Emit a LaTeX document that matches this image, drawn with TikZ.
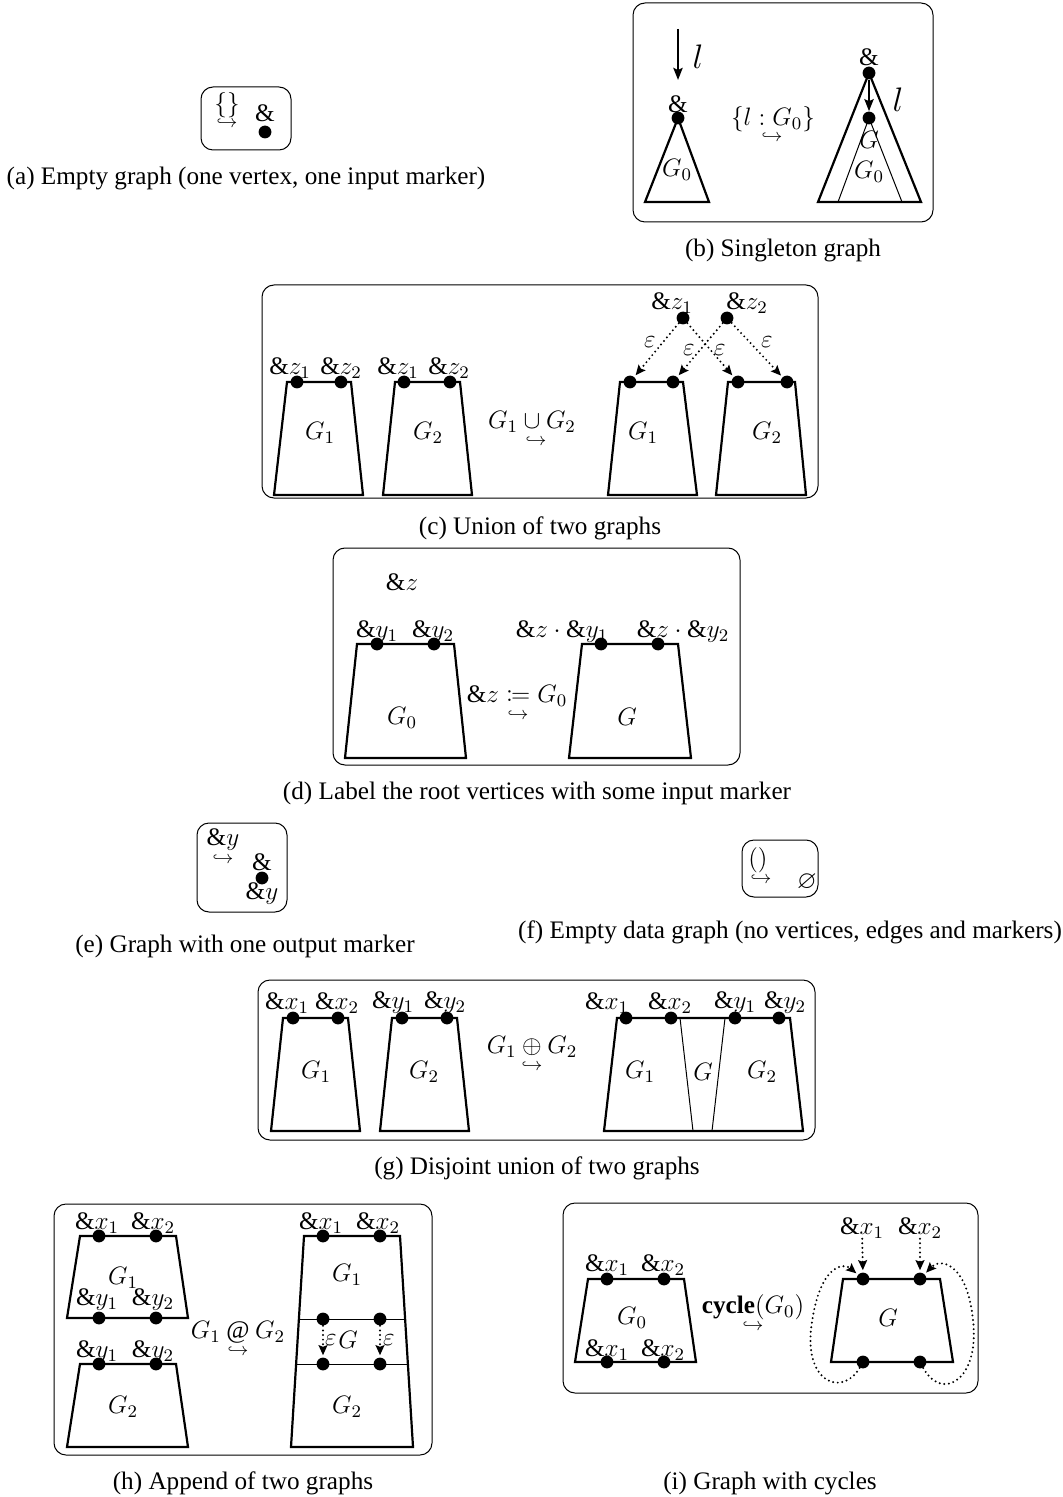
\RequirePackage{fix-cm}
\documentclass[tikz,border=0pt]{standalone}
\usepackage{amsmath,amssymb,mathtools}
\usepackage{fontspec}
\setmainfont{Liberation Serif}
\usetikzlibrary{arrows.meta}

\begin{document}
\begin{tikzpicture}[x=0.5pt,y=-0.5pt,
  every node/.style={font=\fontsize{12.6}{15}\selectfont, inner sep=0pt},
  panel/.style={draw, line width=0.5pt, rounded corners=6pt},
  gline/.style={line width=1.1pt, line join=miter},
  thinline/.style={line width=0.5pt},
  vtx/.style={circle, fill, inner sep=0pt, minimum size=6.4pt},
  hk/.style={font=\fontsize{9}{9}\selectfont},
  bigl/.style={font=\fontsize{17}{20}\selectfont},
  capt/.style={},
  solidarrow/.style={line width=1.1pt, -{Stealth[length=6pt,width=4.6pt,inset=1pt]}},
  eps/.style={dash pattern=on 0pt off 2.3pt, line cap=round, line width=1.1pt,
              -{Stealth[length=5pt,width=4.4pt,inset=0.8pt]}, shorten >=1pt}
]
\useasboundingbox (0,0) rectangle (1063,1497);

% ---------------- (a) empty graph ----------------
\draw[panel] (201,87) rectangle (291,150);
\node (aset) at (227,105) {$\{\}$};
\node[hk] (ahk) at (227,123) {$\hookrightarrow$};
\node (aamp) at (265,113) {$\&$};
\node[vtx] (av) at (265,132) {};
\node[capt] (acap) at (246,178) {(a) Empty graph (one vertex, one input marker)};

% ---------------- (b) singleton graph ----------------
\draw[panel] (633,3) rectangle (933,222);
\coordinate (bas) at (678,29);
\coordinate (bae) at (678,80);
\draw[solidarrow] (bas) -- (bae);
\node[bigl] (bl1) at (698,57) {$l$};
\node (bamp1) at (678,104) {$\&$};
\node[vtx] (bv1) at (678,118) {};
\draw[gline] (bv1.center) -- (645,202) -- (709,202) -- cycle;
\node (bg0a) at (677,170) {$G_0$};
\node (bop) at (773,119) {$\{l:G_0\}$};
\node[hk] (bhk) at (772,137) {$\hookrightarrow$};
\node (bamp2) at (869,57) {$\&$};
\node[vtx] (bv2) at (869,73) {};
\node[vtx] (bv3) at (869,118) {};
\draw[gline] (bv2.center) -- (818,202) -- (921,202) -- cycle;
\draw[thinline] (838,202) -- (bv3.center) -- (902,202);
\draw[solidarrow] (bv2) -- (bv3);
\node[bigl] (bl2) at (898,100) {$l$};
\node (bg) at (869,140) {$G$};
\node (bg0b) at (869,172) {$G_0$};
\node[capt] (bcap) at (783,250) {(b) Singleton graph};

% ---------------- (c) union ----------------
\draw[panel] (262,285) rectangle (818,498);
\draw[gline] (287,382) -- (351,382) -- (363,495) -- (274,495) -- cycle;
\node[vtx] (c1a) at (297,382) {};
\node[vtx] (c1b) at (341,382) {};
\node (c1la) at (290,368) {$\&z_1$};
\node (c1lb) at (341,368) {$\&z_2$};
\node (c1g) at (320,433) {$G_1$};
\draw[gline] (395,382) -- (460,382) -- (472,495) -- (383,495) -- cycle;
\node[vtx] (c2a) at (404,382) {};
\node[vtx] (c2b) at (450,382) {};
\node (c2la) at (398,368) {$\&z_1$};
\node (c2lb) at (449,368) {$\&z_2$};
\node (c2g) at (428,433) {$G_2$};
\node (cop) at (532,422) {$G_1\cup G_2$};
\node[hk] (chk) at (536,441) {$\hookrightarrow$};
\draw[gline] (620,382) -- (683,382) -- (697,495) -- (608,495) -- cycle;
\node[vtx] (c3a) at (630,382) {};
\node[vtx] (c3b) at (673,382) {};
\node (c3g) at (643,433) {$G_1$};
\draw[gline] (728,382) -- (795,382) -- (806,495) -- (716,495) -- cycle;
\node[vtx] (c4a) at (738,382) {};
\node[vtx] (c4b) at (787,382) {};
\node (c4g) at (767,433) {$G_2$};
\node[vtx] (cz1) at (683,318) {};
\node[vtx] (cz2) at (727,318) {};
\node (cz1l) at (672,303) {$\&z_1$};
\node (cz2l) at (747,303) {$\&z_2$};
\draw[eps] (cz1) -- (c3a);
\draw[eps] (cz1) -- (c4a);
\draw[eps] (cz2) -- (c3b);
\draw[eps] (cz2) -- (c4b);
\node (ce1) at (650,342) {$\varepsilon$};
\node (ce2) at (689,350) {$\varepsilon$};
\node (ce3) at (720,350) {$\varepsilon$};
\node (ce4) at (767,342) {$\varepsilon$};
\node[capt] (ccap) at (540,528) {(c) Union of two graphs};

% ---------------- (d) labelling ----------------
\draw[panel] (333,548) rectangle (740,765);
\node (dz) at (402,582) {$\&z$};
\draw[gline] (357,644) -- (454,644) -- (466,758) -- (345,758) -- cycle;
\node[vtx] (d1a) at (377,644) {};
\node[vtx] (d1b) at (434,644) {};
\node (d1la) at (377,632) {$\&y_1$};
\node (d1lb) at (433,632) {$\&y_2$};
\node (d1g) at (402,718) {$G_0$};
\node (dop) at (517,696) {$\&z\coloneqq G_0$};
\node[hk] (dhk) at (518,715) {$\hookrightarrow$};
\draw[gline] (582,644) -- (678,644) -- (691,758) -- (569,758) -- cycle;
\node[vtx] (d2a) at (601,644) {};
\node[vtx] (d2b) at (658,644) {};
\node (d2la) at (562,632) {$\&z\cdot\&y_1$};
\node (d2lb) at (683,632) {$\&z\cdot\&y_2$};
\node (d2g) at (627,717) {$G$};
\node[capt] (dcap) at (537,793) {(d) Label the root vertices with some input marker};

% ---------------- (e) one output marker ----------------
\draw[panel] (197,823) rectangle (287,912);
\node (ey) at (223,840) {$\&y$};
\node[hk] (ehk) at (223,859) {$\hookrightarrow$};
\node (eamp) at (262,862) {$\&$};
\node[vtx] (ev) at (262,878) {};
\node (eout) at (262,894) {$\&y$};
\node[capt] (ecap) at (245,946) {(e) Graph with one output marker};

% ---------------- (f) empty data graph ----------------
\draw[panel] (742,840) rectangle (818,897);
\node (fpar) at (758,860) {$()$};
\node[hk] (fhk) at (761,879) {$\hookrightarrow$};
\node (fnull) at (807,882) {$\varnothing$};
\node[capt] (fcap) at (790,932) {(f) Empty data graph (no vertices, edges and markers)};

% ---------------- (g) disjoint union ----------------
\draw[panel] (258,980) rectangle (815,1140);
\draw[gline] (283,1018) -- (348,1018) -- (360,1131) -- (271,1131) -- cycle;
\node[vtx] (g1a) at (293,1018) {};
\node[vtx] (g1b) at (338,1018) {};
\node (g1la) at (287,1003) {$\&x_1$};
\node (g1lb) at (337,1003) {$\&x_2$};
\node (g1g) at (316,1072) {$G_1$};
\draw[gline] (392,1018) -- (457,1018) -- (469,1131) -- (380,1131) -- cycle;
\node[vtx] (g2a) at (402,1018) {};
\node[vtx] (g2b) at (447,1018) {};
\node (g2la) at (393,1003) {$\&y_1$};
\node (g2lb) at (445,1003) {$\&y_2$};
\node (g2g) at (424,1072) {$G_2$};
\node (gop) at (532,1047) {$G_1\oplus G_2$};
\node[hk] (ghk) at (532,1066) {$\hookrightarrow$};
\draw[gline] (617,1018) -- (790,1018) -- (803,1131) -- (604,1131) -- cycle;
\draw[thinline] (680,1018) -- (693,1131);
\draw[thinline] (725,1018) -- (712,1131);
\node[vtx] (g3a) at (626,1018) {};
\node[vtx] (g3b) at (671,1018) {};
\node[vtx] (g3c) at (735,1018) {};
\node[vtx] (g3d) at (779,1018) {};
\node (g3la) at (607,1003) {$\&x_1$};
\node (g3lb) at (670,1003) {$\&x_2$};
\node (g3lc) at (735,1003) {$\&y_1$};
\node (g3ld) at (785,1003) {$\&y_2$};
\node (g3g1) at (640,1072) {$G_1$};
\node (g3g) at (703,1072) {$G$};
\node (g3g2) at (762,1072) {$G_2$};
\node[capt] (gcap) at (537,1168) {(g) Disjoint union of two graphs};

% ---------------- (h) append ----------------
\draw[panel] (54,1204) rectangle (432,1455);
\draw[gline] (80,1236) -- (176,1236) -- (188,1318) -- (67,1318) -- cycle;
\node[vtx] (h1a) at (99,1236) {};
\node[vtx] (h1b) at (156,1236) {};
\node[vtx] (h1c) at (99,1318) {};
\node[vtx] (h1d) at (156,1318) {};
\node (h1la) at (97,1223) {$\&x_1$};
\node (h1lb) at (153,1223) {$\&x_2$};
\node (h1lc) at (97,1300) {$\&y_1$};
\node (h1ld) at (153,1300) {$\&y_2$};
\node (h1g) at (123,1278) {$G_1$};
\draw[gline] (80,1364) -- (176,1364) -- (188,1447) -- (67,1447) -- cycle;
\node[vtx] (h2a) at (99,1364) {};
\node[vtx] (h2b) at (156,1364) {};
\node (h2la) at (97,1352) {$\&y_1$};
\node (h2lb) at (153,1352) {$\&y_2$};
\node (h2g) at (123,1407) {$G_2$};
\node (hop) at (238,1332) {$G_1\mathbin{@}G_2$};
\node[hk] (hhk) at (238,1351) {$\hookrightarrow$};
\draw[gline] (304,1236) -- (400,1236) -- (413,1447) -- (291,1447) -- cycle;
\draw[thinline] (299,1319) -- (405,1319);
\draw[thinline] (296,1364) -- (408,1364);
\node[vtx] (h3a) at (323,1236) {};
\node[vtx] (h3b) at (380,1236) {};
\node[vtx] (h3c) at (323,1319) {};
\node[vtx] (h3d) at (380,1319) {};
\node[vtx] (h3e) at (323,1364) {};
\node[vtx] (h3f) at (380,1364) {};
\node (h3la) at (321,1223) {$\&x_1$};
\node (h3lb) at (378,1223) {$\&x_2$};
\draw[eps] (h3c) -- (h3e);
\draw[eps] (h3d) -- (h3f);
\node (h3e1) at (331,1340) {$\varepsilon$};
\node (h3e2) at (389,1340) {$\varepsilon$};
\node (h3g) at (348,1340) {$G$};
\node (h3g1) at (347,1275) {$G_1$};
\node (h3g2) at (347,1407) {$G_2$};
\node[capt] (hcap) at (243,1483) {(h) Append of two graphs};

% ---------------- (i) cycles ----------------
\draw[panel] (563,1203) rectangle (978,1393);
\draw[gline] (588,1279) -- (684,1279) -- (696,1362) -- (575,1362) -- cycle;
\node[vtx] (i1a) at (607,1279) {};
\node[vtx] (i1b) at (664,1279) {};
\node[vtx] (i1c) at (607,1362) {};
\node[vtx] (i1d) at (664,1362) {};
\node (i1la) at (607,1265) {$\&x_1$};
\node (i1lb) at (663,1265) {$\&x_2$};
\node (i1lc) at (607,1350) {$\&x_1$};
\node (i1ld) at (663,1350) {$\&x_2$};
\node (i1g) at (632,1318) {$G_0$};
\node (iop) at (753,1307) {$\mathbf{cycle}(G_0)$};
\node[hk] (ihk) at (753,1326) {$\hookrightarrow$};
\draw[gline] (843,1279) -- (940,1279) -- (953,1362) -- (831,1362) -- cycle;
\node[vtx] (itl) at (863,1279) {};
\node[vtx] (itr) at (920,1279) {};
\node[vtx] (ibl) at (863,1362) {};
\node[vtx] (ibr) at (920,1362) {};
\node (ig) at (888,1318) {$G$};
\node (ilx1) at (862,1228) {$\&x_1$};
\node (ilx2) at (920,1228) {$\&x_2$};
\draw[eps] (ilx1) -- (itl);
\draw[eps] (ilx2) -- (itr);
\draw[eps] (ibl) .. controls (842,1398) and (802,1382) .. (812,1322)
                 .. controls (820,1266) and (843,1262) .. (itl);
\draw[eps] (ibr) .. controls (942,1402) and (980,1380) .. (973,1320)
                 .. controls (967,1262) and (940,1258) .. (itr);
\node[capt] (icap) at (770,1483) {(i) Graph with cycles};
\end{tikzpicture}
\end{document}
